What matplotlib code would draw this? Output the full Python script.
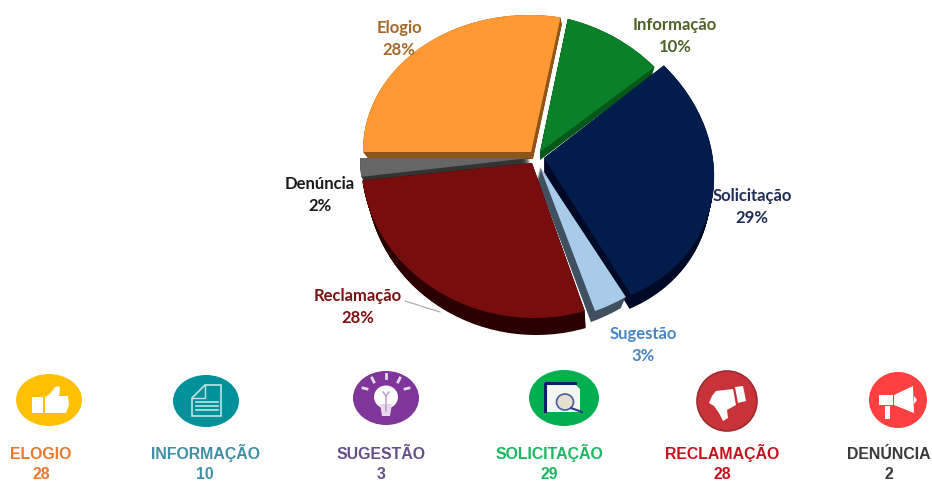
import numpy as np
from matplotlib import pyplot as plt
from matplotlib.patches import Wedge, Ellipse, Polygon, Rectangle
from matplotlib.transforms import Affine2D

# Pie data, in clockwise order from the left
names = ["Elogio", "Informação", "Solicitação", "Sugestão", "Reclamação", "Denúncia"]
percents = [28, 10, 29, 3, 28, 2]
top_colors = ["#FF9933", "#0A8028", "#021C4C", "#A8CBEA", "#770D0D", "#666666"]
side_colors = ["#8F5518", "#05571A", "#000A26", "#40505F", "#2A0000", "#333333"]
label_colors = ["#A5682A", "#4F6228", "#1F2D57", "#4A86C5", "#7A1212", "#1A1A1A"]

# Row of counters under the pie
count_names = ["ELOGIO", "INFORMAÇÃO", "SUGESTÃO", "SOLICITAÇÃO", "RECLAMAÇÃO", "DENÚNCIA"]
count_values = [28, 10, 3, 29, 28, 2]
count_colors = ["#E8792F", "#3F8FA5", "#65508A", "#17B860", "#C5121F", "#3A3A3A"]
icon_colors = ["#FFC000", "#00919A", "#7F3599", "#00B050", "#C8333A", "#FF4040"]

# Per slice geometry in pixels: apex x, apex y, matrix a b c d, side dx, side dy
# The perspective of the original is not one ellipse, so each slice gets its own
geometry = {
    "Elogio": (531, 152, 168, -2, 0, 137, 2, 7),
    "Informação": (540, 152, 159, -2, -13, 138, 0, 8),
    "Solicitação": (544, 158, 170, -6, -13, 149, 0, 14),
    "Sugestão": (540, 167, 178, 0, 14, 156, -3, 11),
    "Reclamação": (532, 163, 171, 0, -2, 155, 2, 17),
    "Denúncia": (530, 158, 170, 0, 0, 150, 1, 7),
}
draw_order = ["Elogio", "Informação", "Denúncia", "Solicitação", "Sugestão", "Reclamação"]

label_pos = {
    "Elogio": (399, 28),
    "Informação": (675, 25),
    "Solicitação": (752, 196),
    "Sugestão": (643, 334),
    "Reclamação": (358, 296),
    "Denúncia": (320, 184),
}
count_x = [41, 205, 381, 549, 722, 889]
icon_boxes = [(49, 400, 33, 26), (206, 401, 33, 26), (386, 398, 33, 27),
              (564, 398, 35, 28), (727, 401, 30, 30), (898, 400, 29, 28)]

fig = plt.figure(figsize=(9.32, 4.83), dpi=100)
ax = fig.add_axes((0, 0, 1, 1))
ax.set_xlim(0, 932)
ax.set_ylim(483, 0)
ax.axis("off")


def slice_patch(theta1, theta2, px, py, m, shrink, color, z):
    a, b, c, d = m
    w = Wedge((0, 0), 1, theta1, theta2, facecolor=color, edgecolor="none", zorder=z)
    matrix = [[a * shrink, b, px], [-c, -d, py], [0, 0, 1]]
    w.set_transform(Affine2D(matrix) + ax.transData)
    ax.add_patch(w)


# Angles run clockwise from 180 degrees
ends = np.cumsum(percents)
starts = ends - np.array(percents)
for z, name in enumerate(draw_order):
    i = names.index(name)
    theta2 = 180 - starts[i] * 3.6
    theta1 = 180 - ends[i] * 3.6
    px, py, a, b, c, d, dx, dy = geometry[name]
    for t in np.linspace(1, 0, 18):
        slice_patch(theta1, theta2, px + dx * t, py + dy * t, (a, b, c, d), 1 - 0.02 * t,
                    side_colors[i], z)
    slice_patch(theta1, theta2, px, py, (a, b, c, d), 1, top_colors[i], z + 0.5)

for i, name in enumerate(names):
    x, y = label_pos[name]
    ax.text(x, y, name, color=label_colors[i], family="Lato", weight="bold", fontsize=12,
            ha="center", va="center", zorder=20)
    ax.text(x, y + 22, f"{percents[i]}%", color=label_colors[i], family="Lato", weight="bold",
            fontsize=12, ha="center", va="center", zorder=20)
ax.plot([405, 440], [301, 312], color="#A6A6A6", lw=0.8, zorder=7)

# Counters
for i, name in enumerate(count_names):
    ax.text(count_x[i], 459, name, color=count_colors[i], family="Liberation Sans", weight="bold",
            fontsize=11.4, ha="center", va="baseline")
    ax.text(count_x[i], 479, str(count_values[i]), color=count_colors[i], family="Liberation Sans",
            weight="bold", fontsize=11.4, ha="center", va="baseline")
    cx, cy, rx, ry = icon_boxes[i]
    edge = "#9E2A2E" if name == "RECLAMAÇÃO" else "none"
    ax.add_patch(Ellipse((cx, cy), rx * 2, ry * 2, facecolor=icon_colors[i], edgecolor=edge, lw=1.2))


def poly(points, color="white"):
    ax.add_patch(Polygon(points, closed=True, facecolor=color, edgecolor="none", zorder=5))


# Thumb up
poly([(32, 397), (43, 397), (43, 413), (32, 413)])
poly([(45, 397), (50, 394), (55, 387), (59, 386), (60, 389), (59, 396), (68, 396), (69, 405),
      (66, 413), (45, 413)])

# Document with folded corner
ax.add_patch(Polygon([(192, 398), (205, 385), (221, 385), (221, 416), (192, 416)], closed=True,
                     facecolor="none", edgecolor="#BFE4E6", lw=1.2, zorder=5))
ax.plot([205, 205, 192], [385, 398, 398], color="#BFE4E6", lw=1, zorder=5)
for y in [402, 406, 410]:
    ax.plot([196, 218], [y, y], color="#BFE4E6", lw=1.2, zorder=5)

# Bulb
ax.add_patch(Ellipse((386, 397), 24, 23, facecolor="white", edgecolor="none", zorder=5))
poly([(380, 404), (392, 404), (390, 416), (382, 416)], "#E6D9EC")
ax.plot([386, 386, 383], [411, 396, 392], color="#B79AC6", lw=1, zorder=6)
ax.plot([386, 389], [396, 392], color="#B79AC6", lw=1, zorder=6)
for x1, y1, x2, y2 in [(363, 388, 367, 389), (372, 378, 374, 382), (386, 374, 386, 378),
                       (400, 378, 398, 382), (409, 388, 405, 389)]:
    ax.plot([x1, x2], [y1, y2], color="#E6D9EC", lw=2, zorder=5)

# Solicitation page and magnifier
ax.add_patch(Rectangle((544, 382), 36, 30, facecolor="#F4F6F4", edgecolor="none", zorder=5))
poly([(572, 381), (583, 381), (583, 392)], icon_colors[3])
ax.plot([545, 545, 575], [411, 383, 383], color="#0A1F6E", lw=2.2, zorder=6)
ax.add_patch(Ellipse((565, 402), 17, 16, facecolor="#E3E0CC", edgecolor="#4A5AA0", lw=1.2, zorder=6))
ax.plot([571, 582], [408, 412], color="#2E3C85", lw=1.5, zorder=6)

# Thumb down
poly([(735, 387), (743, 386), (746, 401), (738, 403)])
poly([(733, 389), (716, 391), (712, 396), (709, 403), (714, 406), (719, 413), (723, 421),
      (728, 418), (727, 410), (736, 405)])

# Megaphone
poly([(894, 395), (913, 386), (914, 413), (894, 405)])
poly([(879, 395), (893, 395), (893, 405), (879, 405)])
poly([(885, 406), (890, 406), (890, 419), (885, 419)])
poly([(914, 396), (917, 400), (914, 404)])

fig.savefig("out.png", dpi=100, facecolor="white")
